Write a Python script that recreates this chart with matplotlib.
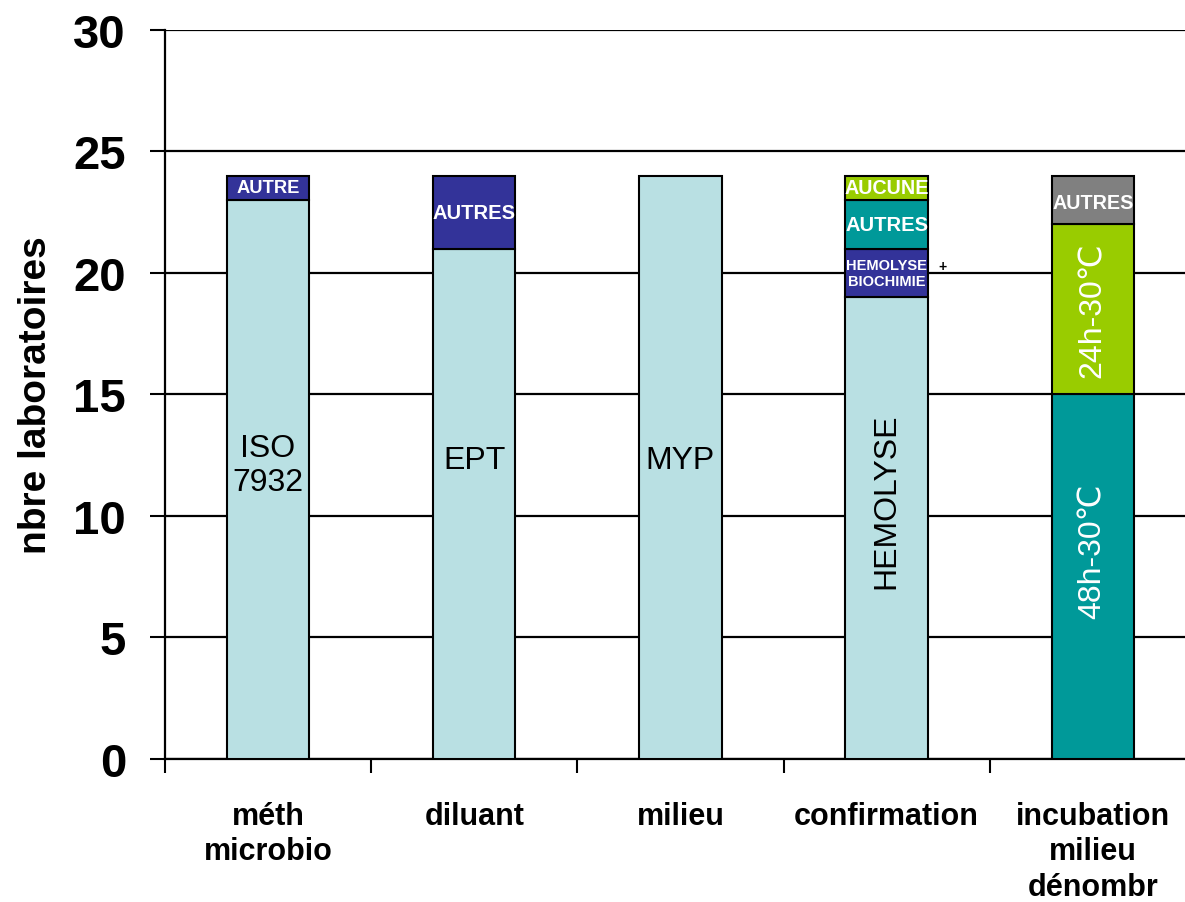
import numpy as np
import matplotlib.pyplot as plt

plt.rcParams['font.family'] = ['Liberation Sans', 'DejaVu Sans']

categories = ['méth\nmicrobio', 'diluant', 'milieu', 'confirmation',
              'incubation\nmilieu\ndénombr']

# stacked segments per category, bottom to top: (value, label)
segments = [
    [(23, 'ISO\n7932'), (1, 'AUTRE')],
    [(21, 'EPT'), (3, 'AUTRES')],
    [(24, 'MYP')],
    [(19, 'HEMOLYSE'), (2, 'HEMOLYSE\nBIOCHIMIE'), (2, 'AUTRES'), (1, 'AUCUNE')],
    [(15, '48h-30℃'), (7, '24h-30℃'), (2, 'AUTRES')],
]

light = '#B9E0E3'
navy = '#333399'
teal = '#009999'
green = '#99CC00'
grey = '#808080'
colors = [
    [light, navy],
    [light, navy],
    [light],
    [light, navy, teal, green],
    [teal, green, grey],
]

# text style per segment: (size, weight, colour, rotation, y position or None for centre)
styles = [
    [(23, 'normal', 'black', 0, 12.1), (13.2, 'bold', 'white', 0, None)],
    [(23, 'normal', 'black', 0, 12.3), (14.5, 'bold', 'white', 0, None)],
    [(23, 'normal', 'black', 0, 12.3)],
    [(23, 'normal', 'black', 90, 10.65), (10.5, 'bold', 'white', 0, None),
     (14.5, 'bold', 'white', 0, None), (14.2, 'bold', 'white', 0, None)],
    [(23, 'normal', 'white', 90, 8.6), (23, 'normal', 'white', 90, None),
     (14.2, 'bold', 'white', 0, 22.9)],
]

fig = plt.figure(figsize=(11.85, 9.03), dpi=100)
ax = fig.add_axes([0.1392, 0.1584, 0.870, 0.8073])

x = np.arange(len(categories))
width = 0.4
for i, segs in enumerate(segments):
    bottom = 0
    for j, (val, lab) in enumerate(segs):
        ax.bar(x[i], val, width, bottom=bottom, color=colors[i][j],
               edgecolor='black', linewidth=1.5, zorder=3)
        size, weight, col, rot, ypos = styles[i][j]
        if ypos is None:
            ypos = bottom + val / 2
        ax.text(x[i], ypos, lab, ha='center', va='center', fontsize=size,
                fontweight=weight, color=col, rotation=rot, zorder=4,
                linespacing=1.15)
        bottom += val

# the "+" between HEMOLYSE and BIOCHIMIE
ax.text(3.27, 20.3, '+', ha='center', va='center', fontsize=10,
        fontweight='bold', color='black', zorder=4)

ax.set_xlim(-0.5, len(categories) - 0.5)
ax.set_ylim(0, 30)
ax.set_yticks(np.arange(0, 31, 5))
ax.yaxis.grid(True, color='black', linewidth=1.6, zorder=0)
ax.set_axisbelow(True)

ax.set_xticks(x)
ax.set_xticklabels(categories, fontsize=22, fontweight='bold', linespacing=1.25)
ax.set_xticks(np.arange(-0.5, len(categories), 1), minor=True)
ax.tick_params(axis='x', which='major', length=0, pad=30)
ax.tick_params(axis='x', which='minor', length=10, width=1.5, direction='out')
ax.tick_params(axis='y', labelsize=34, length=11, width=1.5, direction='out', pad=17)
for lab in ax.get_yticklabels():
    lab.set_fontweight('bold')

ax.set_ylabel('nbre laboratoires', fontsize=28, fontweight='bold', labelpad=14)

for s in ['top', 'right']:
    ax.spines[s].set_visible(False)
for s in ['left', 'bottom']:
    ax.spines[s].set_linewidth(1.6)

plt.savefig('out.png', dpi=100)
